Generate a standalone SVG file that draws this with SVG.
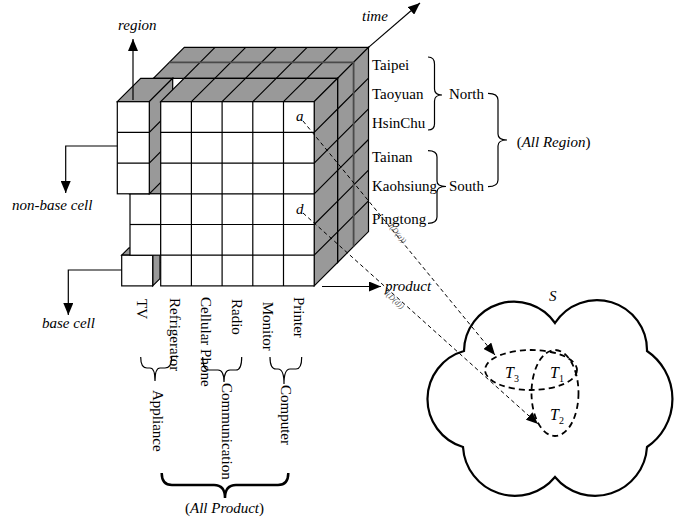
<svg xmlns="http://www.w3.org/2000/svg" width="674" height="523" viewBox="0 0 674 523">
<defs>
<marker id="arr" viewBox="0 0 12 10" refX="12" refY="5" markerWidth="12" markerHeight="10" markerUnits="userSpaceOnUse" orient="auto"><path d="M0,0L12,5L0,10z" fill="#000"/></marker>
</defs>
<style>
.face{fill:#fff;stroke:#000;stroke-width:1.2}
.shade{fill:#999;stroke:#000;stroke-width:1.2}
.grid{stroke:#000;stroke-width:1.2;fill:none}
.mid{stroke:#4a4a4a;stroke-width:1.8;fill:none}
.lbl{font-family:"Liberation Serif","DejaVu Serif","Times New Roman",serif;font-size:15px;fill:#000}
.it{font-family:"Liberation Serif","DejaVu Serif","Times New Roman",serif;font-style:italic}
.axis{stroke:#000;stroke-width:1.2;fill:none;marker-end:url(#arr)}
.brace{stroke:#000;stroke-width:1.2;fill:none}
.dash{stroke:#000;stroke-width:1;stroke-dasharray:4 3;fill:none;marker-end:url(#arr)}
.set{stroke:#000;stroke-width:1.8;stroke-dasharray:6 4;fill:none}
.tag{font-family:"Liberation Serif","DejaVu Serif","Times New Roman",serif;font-size:8px;font-style:italic;fill:#555}
</style>

<!-- data cube: back slices, pulled-out TV cells, front slice -->
<g id="cube">
  <g id="back-slices">
    <polygon class="face" points="153.4,78.3 337.6,78.3 337.6,262.5 153.4,262.5"/>
    <polygon class="shade" points="153.4,78.3 337.6,78.3 368.5,47.4 184.3,47.4"/>
    <polygon class="shade" points="337.6,78.3 368.5,47.4 368.5,231.6 337.6,262.5"/>
    <path class="grid" d="M184.1,78.3L215,47.4M214.8,78.3L245.7,47.4M245.5,78.3L276.4,47.4M276.2,78.3L307.1,47.4M306.9,78.3L337.8,47.4
      M337.6,109L368.5,78.1M337.6,139.7L368.5,108.8M337.6,170.4L368.5,139.5M337.6,201.1L368.5,170.2M337.6,231.8L368.5,200.9"/>
    <polyline class="mid" points="169.4,62.3 353.6,62.3 353.6,246.5"/>
  </g>
  <g id="base-cell-tv">
    <polygon class="shade" points="121.7,255.2 129,247.9 160,247.9 152.7,255.2"/>
    <polygon class="shade" points="152.7,255.2 160,247.9 160,278.6 152.7,285.9"/>
    <rect class="face" x="121.7" y="255.2" width="31" height="30.7"/>
  </g>
  <g id="tv-cells">
    <polygon class="shade" points="130,193.8 160.7,193.8 184.1,170.4 153.4,170.4"/>
    <rect class="face" x="130" y="193.8" width="30.7" height="61.4"/>
    <line class="grid" x1="130" y1="224.5" x2="160.7" y2="224.5"/>
  </g>
  <g id="non-base-stack">
    <polygon class="shade" points="117.3,101.7 149.3,101.7 172.7,78.3 140.7,78.3"/>
    <polygon class="shade" points="149.3,101.7 172.7,78.3 172.7,170.4 149.3,193.8"/>
    <rect class="face" x="117.3" y="101.7" width="32" height="92.1"/>
    <path class="grid" d="M117.3,132.4H149.3M117.3,163.1H149.3M149.3,132.4L172.7,109M149.3,163.1L172.7,139.7"/>
  </g>
  <g id="front-slice">
    <polygon class="shade" points="160.7,101.7 314.2,101.7 337.6,78.3 184.1,78.3"/>
    <polygon class="shade" points="314.2,101.7 337.6,78.3 337.6,262.5 314.2,285.9"/>
    <rect class="face" x="160.7" y="101.7" width="153.5" height="184.2"/>
    <path class="grid" d="M191.4,101.7L214.8,78.3M222.1,101.7L245.5,78.3M252.8,101.7L276.2,78.3M283.5,101.7L306.9,78.3
      M314.2,132.4L337.6,109M314.2,163.1L337.6,139.7M314.2,193.8L337.6,170.4M314.2,224.5L337.6,201.1M314.2,255.2L337.6,231.8
      M191.4,101.7V285.9M222.1,101.7V285.9M252.8,101.7V285.9M283.5,101.7V285.9
      M160.7,132.4H314.2M160.7,163.1H314.2M160.7,193.8H314.2M160.7,224.5H314.2M160.7,255.2H314.2"/>
  </g>
</g>

<!-- axes and pointers -->
<g id="connectors">
  <line class="axis" x1="133" y1="100" x2="133" y2="39"/>
  <line class="axis" x1="368.5" y1="47.4" x2="420" y2="3"/>
  <line class="axis" x1="322" y1="286.5" x2="381" y2="286.5"/>
  <polyline class="axis" points="117.3,146 65.7,146 65.7,193"/>
  <polyline class="axis" points="121.7,270 68.3,270 68.3,315"/>
  <line class="dash" x1="303" y1="121" x2="495" y2="355"/>
  <line class="dash" x1="303" y1="213" x2="538" y2="424"/>
  <!-- braces: regions -->
  <path class="brace" d="M428,57Q434.5,57 434.5,64L434.5,89Q434.5,95 442,95Q434.5,95 434.5,101L434.5,124Q434.5,130 428,130"/>
  <path class="brace" d="M428,150.7Q437,150.7 437,157L437,181Q437,186.5 446,186.5Q437,186.5 437,192L437,217Q437,223.3 428,223.3"/>
  <path class="brace" d="M488,93.3Q498,93.3 498,100L498,134Q498,140 507,140Q498,140 498,146L498,180Q498,186.7 488,186.7"/>
  <!-- braces: products -->
  <path class="brace" d="M140.7,357Q140.7,368 147,368L150,368Q155,368 155,381Q155,368 160,368L165,368Q171.7,368 171.7,357"/>
  <path class="brace" d="M202.7,357Q202.7,370 209,370L218,370Q224,370 224,382Q224,370 230,370L236,370Q241.7,370 241.7,357"/>
  <path class="brace" d="M270,357Q270,369 276,369L278,369Q284,369 284,384Q284,369 290,369L296,369Q301.7,369 301.7,357"/>
  <path class="brace" style="stroke-width:2.5" d="M161.7,473Q161.7,485 172,485L214,485Q225,485 225,498Q225,485 236,485L278,485Q288.3,485 288.3,473"/>
</g>

<!-- set S with subsets T1, T2, T3 -->
<g id="set-s">
  <path d="M464,351A50,50 0 0 1 555,323A50,50 0 0 1 647,351A58,58 0 0 1 647,447A52,52 0 0 1 555,477A52,52 0 0 1 463,447A50,50 0 0 1 464,351Z" fill="none" stroke="#000" stroke-width="2.2"/>
  <text class="lbl it" x="549" y="301">S</text>
</g>
<g id="t3-t1">
  <ellipse class="set" cx="531" cy="370" rx="46" ry="20"/>
</g>
<g id="t1-t2">
  <ellipse class="set" cx="555" cy="393" rx="23.5" ry="43"/>
</g>
<text class="lbl" x="505" y="378"><tspan class="it" font-size="16">T</tspan><tspan font-size="10" dy="4">3</tspan></text>
<text class="lbl" x="550" y="378"><tspan class="it" font-size="16">T</tspan><tspan font-size="10" dy="4">1</tspan></text>
<text class="lbl" x="550" y="420"><tspan class="it" font-size="16">T</tspan><tspan font-size="10" dy="4">2</tspan></text>

<!-- axis and pointer labels -->
<text class="lbl it" x="118" y="30">region</text>
<text class="lbl it" x="362" y="21">time</text>
<text class="lbl it" x="385" y="291">product</text>
<text class="lbl it" x="12" y="210">non-base cell</text>
<text class="lbl it" x="42" y="328">base cell</text>
<text class="lbl it" x="296" y="121">a</text>
<text class="lbl it" x="296" y="214">d</text>
<text class="tag" transform="translate(388,226) rotate(50.6)">I(D(a))</text>
<text class="tag" transform="translate(384,294) rotate(41.9)">I(D(d))</text>

<!-- region hierarchy -->
<g id="regions" class="lbl">
  <text x="372" y="70">Taipei</text>
  <text x="372" y="99.3">Taoyuan</text>
  <text x="372" y="128.3">HsinChu</text>
  <text x="372" y="161.7">Tainan</text>
  <text x="372" y="191">Kaohsiung</text>
  <text x="372" y="224">Pingtong</text>
  <text x="449" y="99.3">North</text>
  <text x="449" y="191">South</text>
  <text x="516.7" y="147.3">(<tspan class="it">All Region</tspan>)</text>
</g>

<!-- product hierarchy -->
<g id="products" class="lbl">
  <text transform="translate(137,299) rotate(90)">TV</text>
  <text transform="translate(170,298) rotate(90)">Refrigerator</text>
  <text transform="translate(201,297) rotate(90)">Cellular Phone</text>
  <text transform="translate(232,299) rotate(90)">Radio</text>
  <text transform="translate(263,301.7) rotate(90)">Monitor</text>
  <text transform="translate(294,297) rotate(90)">Printer</text>
  <text transform="translate(153,390) rotate(90)">Appliance</text>
  <text transform="translate(222,383) rotate(90)">Communication</text>
  <text transform="translate(281,385) rotate(90)">Computer</text>
  <text x="185" y="513">(<tspan class="it">All Product</tspan>)</text>
</g>
</svg>
